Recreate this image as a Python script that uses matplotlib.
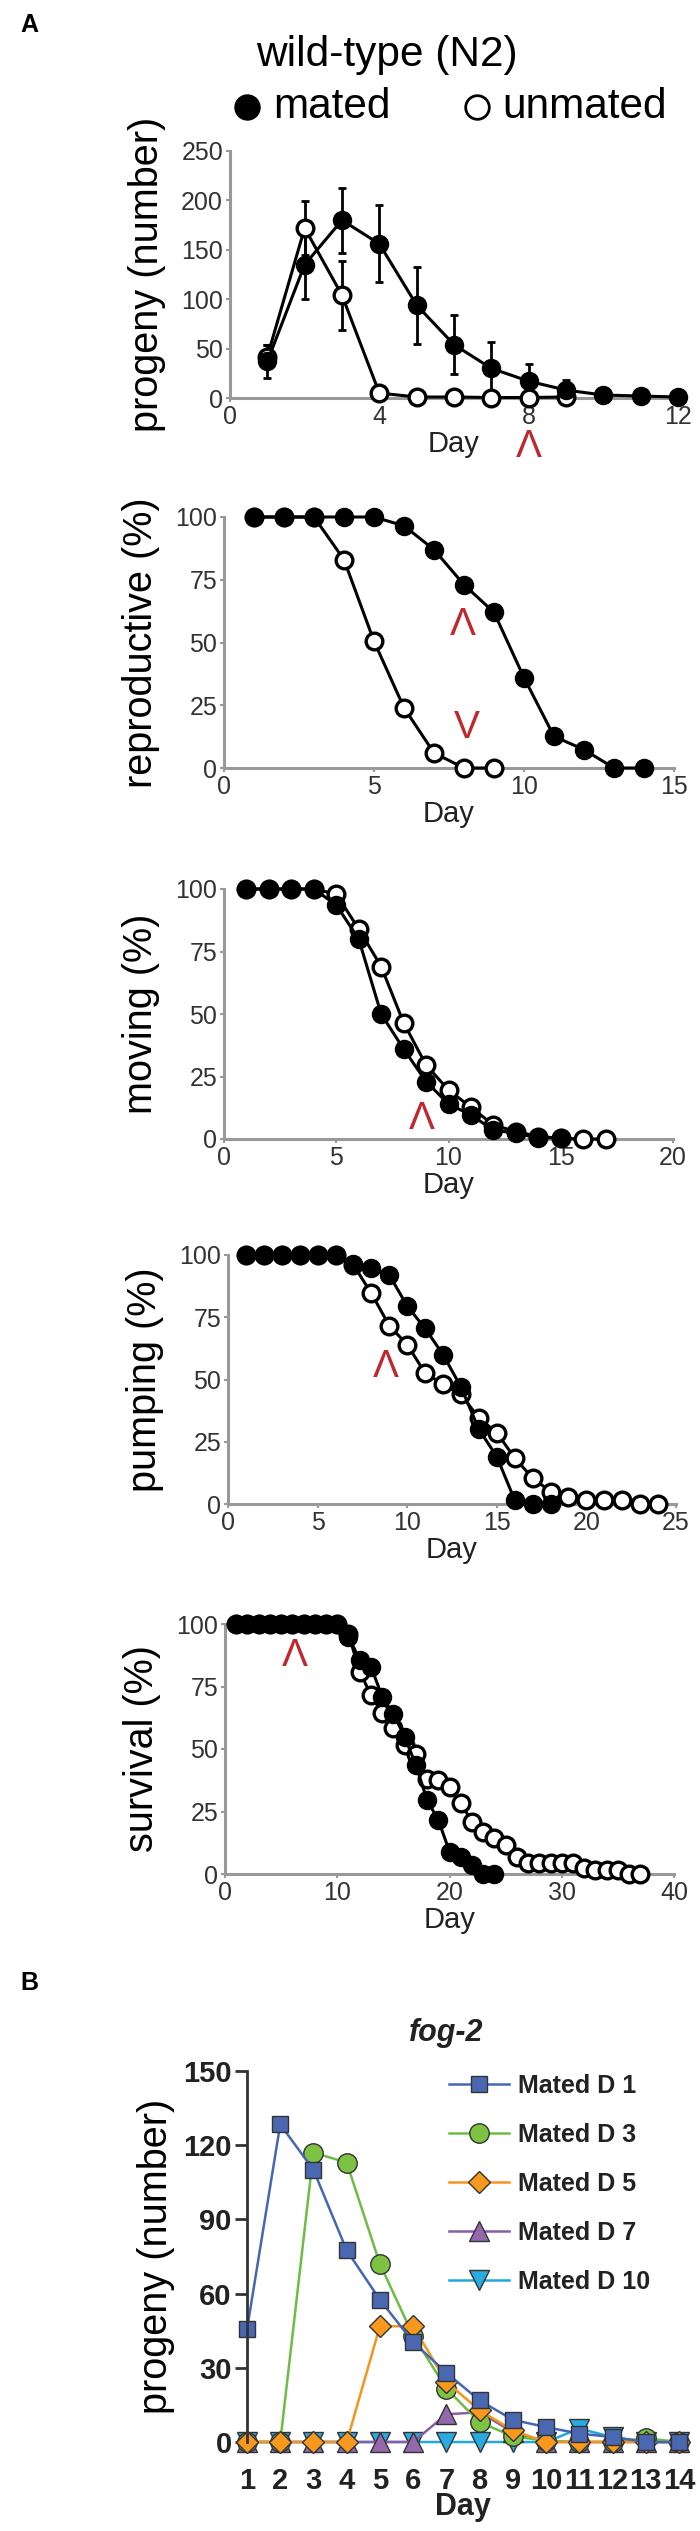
import matplotlib
matplotlib.use('Agg')
import matplotlib.pyplot as plt
from matplotlib.lines import Line2D

plt.rcParams['font.family'] = ['Liberation Sans', 'DejaVu Sans']

# ---- panel A data (wild-type N2) ----
prog_day_m = [1, 2, 3, 4, 5, 6, 7, 8, 9, 10, 11, 12]
prog_mated = [37, 135, 180, 156, 94, 54, 30, 17, 8, 3, 2, 1]
prog_mated_err = [17, 35, 33, 39, 39, 30, 27, 17, 10, 0, 0, 0]
prog_day_u = [1, 2, 3, 4, 5, 6, 7, 8, 9]
prog_unmated = [42, 172, 104, 5, 1, 1, 0.5, 0.5, 1]
prog_unmated_err = [12, 27, 35, 0, 0, 0, 0, 0, 0]

repro_day_m = list(range(1, 15))
repro_mated = [100, 100, 100, 100, 100, 96.5, 87, 73, 62, 36, 12.6, 7.3, 0, 0]
repro_day_u = list(range(1, 10))
repro_unmated = [100, 100, 100, 83, 50.5, 24, 6, 0, 0]

move_day_m = list(range(1, 16))
move_mated = [100, 100, 100, 100, 93.6, 80, 50, 36, 23, 14, 9.6, 3.6, 2.3, 0.5, 0.5]
move_day_u = list(range(1, 18))
move_unmated = [100, 100, 100, 100, 98, 84, 69, 46.5, 29.6, 19.6, 12.7, 5.6, 3, 1, 0.3, 0, 0]

pump_day_m = list(range(1, 19))
pump_mated = [100, 100, 100, 100, 100, 100, 96.4, 94.6, 92, 79.5, 70.5, 60, 47, 30, 19, 1.6, 0, 0]
pump_day_u = list(range(1, 25))
pump_unmated = [100, 100, 100, 100, 100, 100, 96, 84.6, 71.6, 64, 52.6, 48, 44, 34.5,
                28.6, 18.5, 10.4, 5, 3, 1.6, 1.6, 1.6, 0, 0]

surv_day_m = list(range(1, 25))
surv_mated = [100] * 10 + [95, 85.6, 83, 71, 64, 55, 43.6, 29.6, 21.6, 9, 7, 3.6, 0, 0]
surv_day_u = list(range(1, 38))
surv_unmated = [100] * 10 + [96, 81, 71.6, 64.3, 58.3, 51.6, 48, 38, 37.6, 35, 28.3, 21, 17,
                             14.3, 11.6, 7, 4.3, 4.3, 4.3, 4.3, 4.3, 2.3, 1.6, 1.6, 1.6, 0, 0]

# ---- panel B data (fog-2) ----
fog_day = list(range(1, 15))
mated_d1 = [45.5, 128.4, 110, 77.5, 57.5, 40.4, 28, 16.8, 9, 6, 3.4, 2, 0, 0]
mated_d3 = [0, 0, 117, 113, 72, 43, 21.6, 8, 2.3, 0.5, 0, 0, 1.5, 0]
mated_d5 = [0, 0, 0, 0, 46.8, 46.8, 24.3, 12.8, 4.7, 0, 0, 0, 0, 0]
mated_d7 = [0, 0, 0, 0, 0, 0, 11.2, 12, 4, 0, 0, 0, 0, 0]
mated_d10 = [0, 0, 0, 0, 0, 0, 0, 0, 0, 0, 5.4, 2, 0, 0]

W, H = 700, 2531
fig = plt.figure(figsize=(W / 100, H / 100), dpi=100)
RED = '#c1272d'
NARROW = ['Liberation Sans Narrow', 'Liberation Sans', 'DejaVu Sans']


def add_ax(left, right, top, bottom):
    return fig.add_axes([left / W, 1 - bottom / H, (right - left) / W, (bottom - top) / H])


def style_a(ax, xmax, ymax, xticks, yticks, ylabel):
    ax.set_xlim(0, xmax)
    ax.set_ylim(0, ymax)
    ax.set_xticks(xticks)
    ax.set_yticks(yticks)
    for s in ['top', 'right']:
        ax.spines[s].set_visible(False)
    for s in ['left', 'bottom']:
        ax.spines[s].set_color('#999999')
        ax.spines[s].set_linewidth(2.2)
    ax.tick_params(length=3, width=1.5, color='#999999', labelcolor='#333333',
                   labelsize=18, pad=2)
    for lab in ax.get_xticklabels() + ax.get_yticklabels():
        lab.set_family(NARROW)
    ax.set_xlabel('Day', fontsize=21, family=NARROW, color='#222222', labelpad=1)
    ax.set_ylabel(ylabel, fontsize=28.5, labelpad=11)
    ax.patch.set_alpha(0)


def pair(ax, dm, ym, du, yu):
    ax.plot(du, yu, color='black', lw=2.2, marker='o', ms=12, mfc='white',
            mec='black', mew=2.4, clip_on=False, zorder=3)
    ax.plot(dm, ym, color='black', lw=2.2, marker='o', ms=13, mfc='black',
            mec='black', clip_on=False, zorder=4)


# panel 1: progeny
ax1 = add_ax(230, 678, 151, 398)
ax1.errorbar(prog_day_u, prog_unmated, yerr=prog_unmated_err, fmt='none', ecolor='black',
             elinewidth=2, capsize=3, capthick=2, clip_on=False, zorder=2)
ax1.errorbar(prog_day_m, prog_mated, yerr=prog_mated_err, fmt='none', ecolor='black',
             elinewidth=2, capsize=3, capthick=2, clip_on=False, zorder=2)
pair(ax1, prog_day_m, prog_mated, prog_day_u, prog_unmated)
style_a(ax1, 12, 250, [0, 4, 8, 12], [0, 50, 100, 150, 200, 250], 'progeny (number)')
ax1.text(8, -50, 'Λ', color=RED, fontsize=28, ha='center', va='center', clip_on=False)

# panel 2: reproductive
ax2 = add_ax(224, 674, 517, 768)
pair(ax2, repro_day_m, repro_mated, repro_day_u, repro_unmated)
style_a(ax2, 15, 100, [0, 5, 10, 15], [0, 25, 50, 75, 100], 'reproductive (%)')
ax2.text(7.95, 57, 'Λ', color=RED, fontsize=28, ha='center', va='center')
ax2.text(8.1, 16, 'V', color=RED, fontsize=28, ha='center', va='center')

# panel 3: moving
ax3 = add_ax(224, 673, 889, 1139)
pair(ax3, move_day_m, move_mated, move_day_u, move_unmated)
style_a(ax3, 20, 100, [0, 5, 10, 15, 20], [0, 25, 50, 75, 100], 'moving (%)')
ax3.text(8.8, 8, 'Λ', color=RED, fontsize=28, ha='center', va='center')

# panel 4: pumping
ax4 = add_ax(228, 676, 1255, 1504)
pair(ax4, pump_day_m, pump_mated, pump_day_u, pump_unmated)
style_a(ax4, 25, 100, [0, 5, 10, 15, 20, 25], [0, 25, 50, 75, 100], 'pumping (%)')
ax4.text(8.8, 55, 'Λ', color=RED, fontsize=28, ha='center', va='center')

# panel 5: survival
ax5 = add_ax(225, 674, 1624, 1874)
pair(ax5, surv_day_m, surv_mated, surv_day_u, surv_unmated)
style_a(ax5, 40, 100, [0, 10, 20, 30, 40], [0, 25, 50, 75, 100], 'survival (%)')
ax5.text(6.2, 87, 'Λ', color=RED, fontsize=28, ha='center', va='center')

# header of panel A
fig.text(20 / W, 1 - 25 / H, 'A', fontsize=18, fontweight='bold', va='center')
fig.text(387 / W, 1 - 55 / H, 'wild-type (N2)', fontsize=30.5, ha='center', va='center')
fig.add_artist(Line2D([247 / W], [1 - 107 / H], transform=fig.transFigure, marker='o',
                      ms=18, mfc='black', mec='black', ls='none'))
fig.add_artist(Line2D([477 / W], [1 - 107 / H], transform=fig.transFigure, marker='o',
                      ms=17, mfc='white', mec='black', mew=2, ls='none'))
fig.text(273 / W, 1 - 107 / H, 'mated', fontsize=30.5, va='center')
fig.text(502 / W, 1 - 107 / H, 'unmated', fontsize=30.5, va='center')

# panel B: fog-2
fig.text(20 / W, 1 - 1983 / H, 'B', fontsize=18, fontweight='bold', va='center')
fig.text(446 / W, 1 - 2033 / H, 'fog-2', fontsize=22, fontweight='bold', style='italic',
         ha='center', va='center', color='#222222')

axb = add_ax(247, 679, 2071, 2442)
series = [
    ('Mated D 10', mated_d10, 'v', '#29abe2', '#21a9d8', 14),
    ('Mated D 7', mated_d7, '^', '#9468ab', '#8b5ca8', 14),
    ('Mated D 3', mated_d3, 'o', '#7dc242', '#6cbd45', 14),
    ('Mated D 5', mated_d5, 'D', '#f8981d', '#f7941d', 11),
    ('Mated D 1', mated_d1, 's', '#4a68b1', '#4565b5', 12),
]
handles = {}
for name, vals, mk, fc, lc, ms in series:
    h, = axb.plot(fog_day, vals, color=lc, lw=1.8, marker=mk, ms=ms, mfc=fc,
                  mec='#333333', mew=1, clip_on=False, label=name)
    handles[name] = h
axb.set_xlim(1, 14)
axb.set_ylim(0, 150)
axb.set_xticks(fog_day)
axb.set_yticks([0, 30, 60, 90, 120, 150])
for s in ['top', 'right', 'bottom']:
    axb.spines[s].set_visible(False)
axb.spines['left'].set_color('#333333')
axb.spines['left'].set_linewidth(2)
axb.tick_params(axis='y', length=9, width=2, color='#333333', labelsize=21, pad=2)
axb.tick_params(axis='x', length=0, labelsize=21, pad=18)
for lab in axb.get_xticklabels() + axb.get_yticklabels():
    lab.set_fontweight('bold')
    lab.set_color('#222222')
axb.set_xlabel('Day', fontsize=22, fontweight='bold', color='#222222', labelpad=-2)
axb.set_ylabel('progeny (number)', fontsize=28.5, labelpad=6)
order = ['Mated D 1', 'Mated D 3', 'Mated D 5', 'Mated D 7', 'Mated D 10']
leg = axb.legend([handles[n] for n in order], order, loc='upper left',
                 bbox_to_anchor=(449 / W, 1 - 2074 / H), bbox_transform=fig.transFigure,
                 frameon=False, borderpad=0, borderaxespad=0, handlelength=2.4,
                 handletextpad=0.35, labelspacing=1.0,
                 prop={'size': 18, 'weight': 'bold'})
for t in leg.get_texts():
    t.set_color('#222222')

fig.savefig('out.png', dpi=100)
